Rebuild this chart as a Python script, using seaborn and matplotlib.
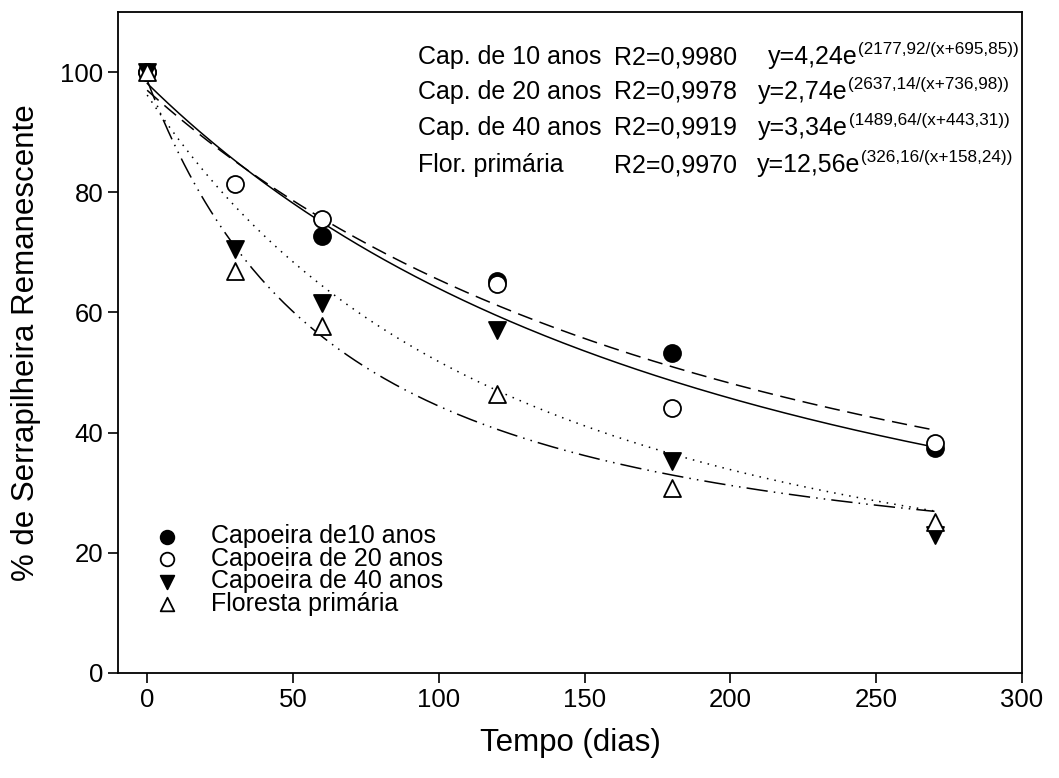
import numpy as np
import pandas as pd
import matplotlib
matplotlib.use("Agg")
import matplotlib.pyplot as plt
import seaborn as sns

# ---------------- data ----------------
dias = [0, 30, 60, 120, 180, 270]
cap10_dias = [0, 60, 120, 180, 270]
cap10 = [100, 72.8, 65.2, 53.2, 37.4]
cap20 = [100, 81.3, 75.6, 64.8, 44.1, 38.3]
cap40 = [100, 70.5, 61.6, 57.0, 35.2, 23.0]
floresta = [100, 66.9, 57.7, 46.4, 30.8, 25.2]

series_names = ["Capoeira de10 anos", "Capoeira de 20 anos",
                "Capoeira de 40 anos", "Floresta primária"]

# fitted model y = a * exp(b / (x + c)), parameters from the chart text
fit_a = [4.24, 2.74, 3.34, 12.56]
fit_b = [2177.92, 2637.14, 1489.64, 326.16]
fit_c = [695.85, 736.98, 443.31, 158.24]
fit_a_txt = ["4,24", "2,74", "3,34", "12,56"]
fit_exp_txt = ["(2177,92/(x+695,85))", "(2637,14/(x+736,98))",
               "(1489,64/(x+443,31))", "(326,16/(x+158,24))"]
fit_r2 = ["0,9980", "0,9978", "0,9919", "0,9970"]
fit_labels = ["Cap. de 10 anos", "Cap. de 20 anos", "Cap. de 40 anos", "Flor. primária"]

x_ticks = [0, 50, 100, 150, 200, 250, 300]
y_ticks = [0, 20, 40, 60, 80, 100]

# ---------------- style ----------------
sns.set_theme(style="ticks")
plt.rcParams["font.family"] = ["Liberation Sans", "DejaVu Sans"]
plt.rcParams["text.color"] = "black"

W, H = 1059, 778
AX_L, AX_R, AX_T, AX_B = 118, 1022, 12, 673
fig = plt.figure(figsize=(W / 100, H / 100), dpi=100)
ax = fig.add_axes([AX_L / W, 1 - AX_B / H, (AX_R - AX_L) / W, (AX_B - AX_T) / H])


def px(xp, yp):
    """pixel position (from top-left of the image) -> axes fraction"""
    return (xp - AX_L) / (AX_R - AX_L), (AX_B - yp) / (AX_B - AX_T)


# ---------------- fitted curves ----------------
xs = np.linspace(0, 270, 300)
curve_rows = []
for name, a, b, c in zip(series_names, fit_a, fit_b, fit_c):
    for xv in xs:
        curve_rows.append({"dias": xv, "valor": a * np.exp(b / (xv + c)), "serie": name})
curves = pd.DataFrame(curve_rows)

line_styles = [(0, (10, 5)), "-", (0, (1, 4)), (0, (14, 4, 1, 4, 1, 4))]
for name, ls in zip(series_names, line_styles):
    sub = curves[curves["serie"] == name]
    sns.lineplot(data=sub, x="dias", y="valor", ax=ax, color="black",
                 linewidth=1.1, linestyle=ls, legend=False, zorder=2)

# ---------------- points ----------------
points = pd.concat([
    pd.DataFrame({"dias": cap10_dias, "valor": cap10, "serie": series_names[0]}),
    pd.DataFrame({"dias": dias, "valor": cap20, "serie": series_names[1]}),
    pd.DataFrame({"dias": dias, "valor": cap40, "serie": series_names[2]}),
    pd.DataFrame({"dias": dias, "valor": floresta, "serie": series_names[3]}),
])

marker_styles = [("o", "black"), ("o", "white"), ("v", "black"), ("^", "white")]
for name, (mk, fc) in zip(series_names, marker_styles):
    sub = points[points["serie"] == name]
    sns.scatterplot(data=sub, x="dias", y="valor", ax=ax, marker=mk,
                    color=fc, edgecolor="black", linewidth=1.3, s=150,
                    label=name, zorder=3)

# ---------------- axes ----------------
ax.set_xlim(-10, 300)
ax.set_ylim(0, 110)
ax.set_xticks(x_ticks)
ax.set_yticks(y_ticks)
ax.tick_params(direction="out", length=7, width=1.2, labelsize=18.5,
               colors="black", top=False, right=False)
for sp in ax.spines.values():
    sp.set_visible(True)
    sp.set_color("black")
    sp.set_linewidth(1.3)
ax.set_xlabel("Tempo (dias)", fontsize=22.5, labelpad=12, color="black")
ax.set_ylabel("% de Serrapilheira Remanescente", fontsize=22.5, labelpad=14, color="black")

leg = ax.legend(loc="center left", bbox_to_anchor=px(142, 570), frameon=False,
                fontsize=18, handletextpad=0.75, labelspacing=-0.06,
                markerscale=0.8, borderaxespad=0, borderpad=0)
for txt in leg.get_texts():
    txt.set_color("black")

# ---------------- equation annotations ----------------
row_base = [64, 99, 135, 172]
name_x = 418
r2_x = 614
eq_x = [768, 758, 758, 757]
fs = 18
for i in range(4):
    ax.text(*px(name_x, row_base[i]), fit_labels[i], transform=ax.transAxes,
            fontsize=fs, va="baseline", ha="left", color="black")
    ax.text(*px(r2_x, row_base[i]), "R2=" + fit_r2[i], transform=ax.transAxes,
            fontsize=fs, va="baseline", ha="left", color="black")
    t = ax.text(*px(eq_x[i], row_base[i]), "y=" + fit_a_txt[i] + "e", transform=ax.transAxes,
                fontsize=fs, va="baseline", ha="left", color="black")
    ax.annotate(fit_exp_txt[i], xy=(1, 0.62), xycoords=t, xytext=(0.5, 0),
                textcoords="offset points", fontsize=12.3, va="baseline", ha="left",
                color="black")

fig.savefig("out.png", dpi=100)
